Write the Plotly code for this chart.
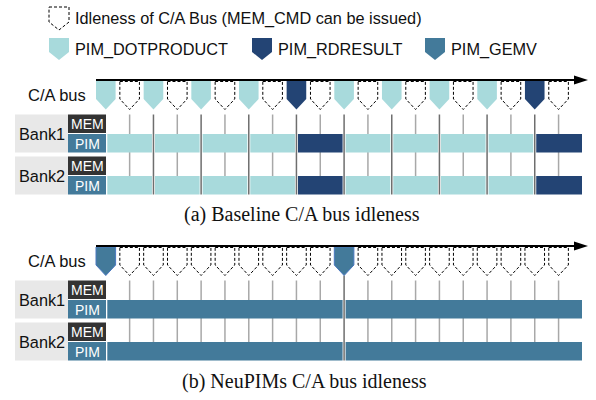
import plotly.graph_objects as go

# ---------------- data ----------------
cmds_a = ["D", "I", "D", "I", "D", "I", "D", "I", "R", "I",
          "D", "I", "D", "I", "D", "I", "D", "I", "R", "I"]
cmds_b = ["G", "I", "I", "I", "I", "I", "I", "I", "I", "I",
          "G", "I", "I", "I", "I", "I", "I", "I", "I", "I"]
legend_labels = ["Idleness of C/A Bus (MEM_CMD can be issued)",
                 "PIM_DOTPRODUCT", "PIM_RDRESULT", "PIM_GEMV"]
bank_names = ["Bank1", "Bank2"]
row_labels = ["MEM", "PIM"]
bus_label = "C/A bus"
captions = ["(a) Baseline C/A bus idleness", "(b) NeuPIMs C/A bus idleness"]

# ---------------- styles ----------------
COL = {"D": "#A8DADC", "R": "#234474", "G": "#437A9A"}
MEM_COL = "#333333"
PIM_COL = "#437A9A"
LBL_BG = "#E8E8E8"
SANS = "Liberation Sans, Arial, sans-serif"
SERIF = "Liberation Serif, Times New Roman, serif"
DASH = "3px,2px"

X0 = 96.0
PITCH = 23.83
SW = 19.6
BAR_END = 582.0

shapes = []
annots = []


def pent(x, top, side, tip, w):
    return (f"M {x:.2f},{top:.2f} L {x + w:.2f},{top:.2f} L {x + w:.2f},{side:.2f} "
            f"L {x + w / 2:.2f},{tip:.2f} L {x:.2f},{side:.2f} Z")


def text(x, y, s, size, color="#111111", font=SANS, xanchor="left"):
    annots.append(dict(x=x, y=y, xref="x", yref="y", text=s, showarrow=False,
                       xanchor=xanchor, yanchor="middle",
                       font=dict(family=font, size=size, color=color)))


# ---------------- legend ----------------
leg_x = [49, 49, 252, 425]
leg_y = [7, 38, 38, 38]
for i, lab in enumerate(legend_labels):
    x, t = leg_x[i], leg_y[i]
    if i == 0:
        shapes.append(dict(type="path", path=pent(x, t, t + 15, t + 23, 20),
                           line=dict(color="black", width=1, dash=DASH),
                           fillcolor="rgba(0,0,0,0)"))
    else:
        key = ["D", "R", "G"][i - 1]
        shapes.append(dict(type="path", path=pent(x, t, t + 14, t + 22, 20),
                           line=dict(width=0), fillcolor=COL[key]))
    text(x + 24, t + 11, lab, 16.3)


# ---------------- panels ----------------
def panel(cmds, ay, dark_from_tip):
    top, side, tip = ay + 1, ay + 19, ay + 29.5
    b1 = ay + 34.5
    bank_tops = [b1, b1 + 42]
    centers = [X0 + k * PITCH + SW / 2 for k in range(len(cmds))]

    # bank labels and MEM/PIM boxes
    for bt, name in zip(bank_tops, bank_names):
        shapes.append(dict(type="rect", x0=15, x1=68, y0=bt, y1=bt + 38,
                           line=dict(width=0), fillcolor=LBL_BG, layer="below"))
        shapes.append(dict(type="rect", x0=68, x1=106, y0=bt, y1=bt + 18.5,
                           line=dict(width=0), fillcolor=MEM_COL, layer="below"))
        shapes.append(dict(type="rect", x0=68, x1=106, y0=bt + 19.5, y1=bt + 38,
                           line=dict(width=0), fillcolor=PIM_COL, layer="below"))
        text(41.5, bt + 19, name, 16.3, xanchor="center")
        text(87, bt + 9.5, row_labels[0], 14, color="white", xanchor="center")
        text(87, bt + 29, row_labels[1], 14, color="white", xanchor="center")

    # grid lines at slot centres
    for k, c in enumerate(cmds):
        if k == 0:
            continue
        cx = centers[k]
        if c == "I":
            shapes.append(dict(type="line", x0=cx, x1=cx, y0=b1, y1=bank_tops[1] + 19.5,
                               line=dict(color="#A8A8A8", width=1.5), layer="below"))
        else:
            y0 = tip if dark_from_tip else b1
            shapes.append(dict(type="line", x0=cx, x1=cx, y0=y0, y1=bank_tops[1] + 38,
                               line=dict(color="#6E6E6E", width=1.5), layer="above"))

    # PIM bars
    cmd_idx = [k for k, c in enumerate(cmds) if c != "I"]
    for j, k in enumerate(cmd_idx):
        xs = centers[k] + 1.5
        xe = centers[cmd_idx[j + 1]] - 1.5 if j + 1 < len(cmd_idx) else BAR_END
        for bt in bank_tops:
            shapes.append(dict(type="rect", x0=xs, x1=xe, y0=bt + 19.5, y1=bt + 38,
                               line=dict(width=0), fillcolor=COL[cmds[k]], layer="below"))

    # bus command shapes
    for k, c in enumerate(cmds):
        x = X0 + k * PITCH
        if c == "I":
            shapes.append(dict(type="path", path=pent(x, top + 0.5, side, tip, SW),
                               line=dict(color="black", width=1, dash=DASH),
                               fillcolor="rgba(0,0,0,0)"))
        else:
            ln = dict(color="#4A78C0", width=1) if c == "G" else dict(width=0)
            shapes.append(dict(type="path", path=pent(x, top, side, tip, SW),
                               line=ln, fillcolor=COL[c]))

    # arrow
    shapes.append(dict(type="line", x0=X0, x1=580, y0=ay, y1=ay,
                       line=dict(color="black", width=1.8)))
    shapes.append(dict(type="path",
                       path=f"M 574,{ay - 4.5} L 588,{ay} L 574,{ay + 4.5} Z",
                       line=dict(width=0), fillcolor="black"))
    text(88, ay + 15, bus_label, 16.5, xanchor="right")


panel(cmds_a, 80, False)
panel(cmds_b, 246, True)
text(302, 214, captions[0], 20, font=SERIF, xanchor="center")
text(304, 381, captions[1], 20, font=SERIF, xanchor="center")

fig = go.Figure()
fig.add_trace(go.Scatter(x=[0, 596], y=[0, 400], mode="markers",
                         marker=dict(opacity=0), hoverinfo="skip", showlegend=False))
fig.update_layout(width=596, height=400, autosize=False,
                  margin=dict(l=0, r=0, t=0, b=0),
                  paper_bgcolor="white", plot_bgcolor="white",
                  xaxis=dict(range=[0, 596], visible=False, fixedrange=True),
                  yaxis=dict(range=[400, 0], visible=False, fixedrange=True),
                  shapes=shapes, annotations=annots, showlegend=False)
fig.write_html("out.html", config={"displayModeBar": False},
               post_script="document.body.style.margin='0';")
